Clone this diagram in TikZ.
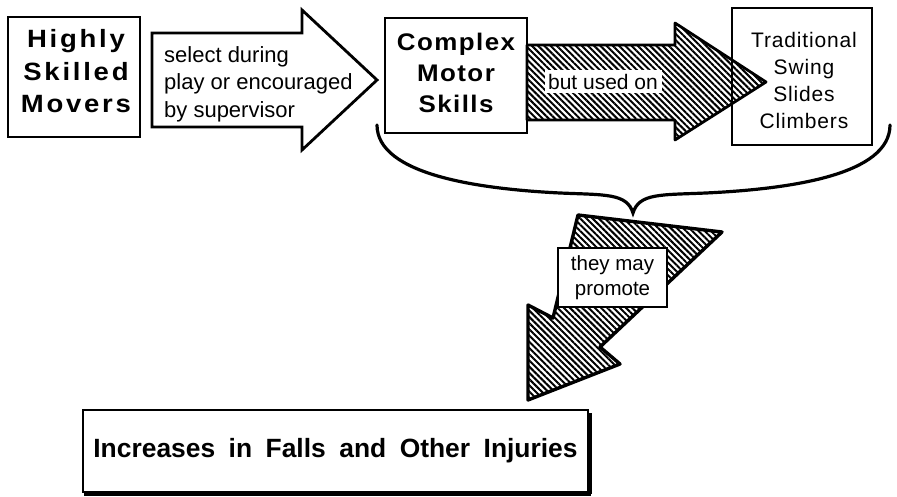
\documentclass[tikz,border=0pt]{standalone}
\usepackage{fontspec}
\setmainfont{Liberation Sans}
\newfontfamily\widesans[LetterSpace=11, FakeStretch=1.1]{Liberation Sans}
\newfontfamily\spacedsans[LetterSpace=6, FakeStretch=1.08]{Liberation Sans}
\newfontfamily\lightspaced[LetterSpace=4]{Liberation Sans}
\usetikzlibrary{patterns.meta}
\newcommand\widegap{\hspace{13.5pt}}

\begin{document}
\begin{tikzpicture}[x=1pt,y=-1pt,
  frame/.style={draw=black, line width=2.6pt, fill=white, inner sep=0pt},
  boxlabel/.style={inner sep=0pt, align=center},
  plainlabel/.style={font=\fontsize{22}{27.5}\selectfont},
  whitearrow/.style={draw=black, fill=white, line width=2.8pt, line join=miter},
  hatcharrow/.style={draw=black, line width=2.8pt, line join=round,
    pattern={Lines[angle=-45,distance=4.4pt,line width=2pt]}},
  brace/.style={draw=black, line width=3.2pt, line cap=round}
]
\useasboundingbox (0,0) rectangle (897,497);

% boxes of the upper row
\node[frame, minimum width=132pt, minimum height=120pt] (movers) at (74,77) {};
\node[boxlabel, font=\widesans\bfseries\fontsize{25}{32.5}\selectfont] (moverslabel) at (76,71.5) {Highly\\Skilled\\Movers};
\node[frame, minimum width=142pt, minimum height=115pt] (motor) at (456,75.5) {};
\node[boxlabel, font=\spacedsans\bfseries\fontsize{24}{31}\selectfont] (motorlabel) at (456,72.5) {Complex\\Motor\\Skills};
\node[frame, line width=2pt, minimum width=140pt, minimum height=137pt] (equip) at (802,76.5) {};
\node[boxlabel, font=\lightspaced\fontsize{21}{27}\selectfont] (equiplabel) at (804,80) {Traditional\\Swing\\Slides\\Climbers};

% open block arrow between the first two boxes
\draw[whitearrow] (152,33) -- (302,33) -- (302,10) -- (377,80) -- (302,150) -- (302,127) -- (152,127) -- cycle;
\node[plainlabel, anchor=west, align=left, inner sep=0pt] (select) at (164,84) {select during\\play or encouraged\\by supervisor};

% hatched block arrow towards the equipment box
\draw[hatcharrow] (527,45) -- (675,45) -- (675,23) -- (766,82) -- (675,140) -- (675,120) -- (527,120) -- cycle;
\node[fill=white, inner sep=0pt, minimum width=117pt, minimum height=23pt, font=\fontsize{21}{24}\selectfont] (used) at (603,82) {but used on};

% curly brace gathering the upper row
\draw[brace] (377,125) .. controls (377,175) and (480,189) .. (560,193)
  .. controls (605,195) and (627,193) .. (633,213)
  .. controls (639,193) and (661,195) .. (706,193)
  .. controls (790,189) and (890,175) .. (890,125);
\coordinate (bracetip) at (633,213);

% slanted hatched arrow down to the result
\draw[hatcharrow, line width=3.4pt] (578,215) -- (722,232) -- (600,347) -- (620,364) -- (528,400) -- (528,305) -- (553,318) -- cycle;
\node[draw=black, fill=white, line width=1.5pt, inner sep=0pt, minimum width=109pt, minimum height=59pt, align=center, font=\fontsize{20.5}{25}\selectfont] (promote) at (612.5,277.5) {they may\\promote};

% result box with heavy right and lower edges
\node[frame, minimum width=505pt, minimum height=82pt, font=\bfseries\fontsize{26.4}{30}\selectfont] (falls) at (335.5,451)
  {Increases\widegap in\widegap Falls\widegap and\widegap Other\widegap Injuries};
\draw[line width=5pt] (589,413) -- (589,494);
\draw[line width=3.5pt] (84,494) -- (591,494);
\end{tikzpicture}
\end{document}
